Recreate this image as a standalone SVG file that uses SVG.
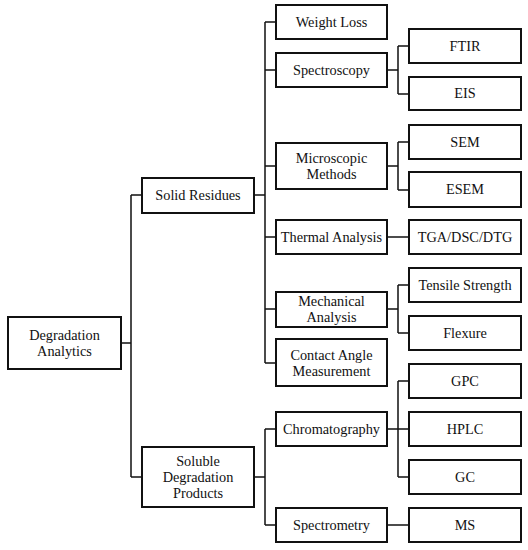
<svg xmlns="http://www.w3.org/2000/svg" width="528" height="550" viewBox="0 0 528 550">
<style>
.box{fill:#fff;stroke:#111;stroke-width:2}
.t{font-family:"Liberation Serif","DejaVu Serif",serif;font-size:14.3px;fill:#111;text-anchor:middle;dominant-baseline:central}
.c{fill:none;stroke:#111;stroke-width:1.5}
</style>
<rect width="528" height="550" fill="#fff"/>
<g id="connectors" class="c">
<path d="M121 343H131M131 195V477M131 195H142M131 477H142"/>
<path d="M254 195H265M265 22V363M265 22H276M265 70H276M265 166H276M265 237H276M265 309H276M265 363H276"/>
<path d="M387 70H398M398 46V94M398 46H409M398 94H409"/>
<path d="M387 166H398M398 142V190M398 142H409M398 190H409"/>
<path d="M387 237H409"/>
<path d="M387 309H398M398 285V333M398 285H409M398 333H409"/>
<path d="M254 477H265M265 429V525M265 429H276M265 525H276"/>
<path d="M387 429H398M398 381V477M398 381H409M398 429H409M398 477H409"/>
<path d="M387 525H409"/>
</g>
<g id="degradation"><rect class="box" x="8" y="317" width="113" height="52"/><text class="t" x="64.5" y="334.5">Degradation</text><text class="t" x="64.5" y="350.5">Analytics</text></g>
<g id="solid"><rect class="box" x="142" y="178" width="112" height="35"/><text class="t" x="198" y="195">Solid Residues</text></g>
<g id="soluble"><rect class="box" x="142" y="447" width="112" height="60"/><text class="t" x="198" y="461">Soluble</text><text class="t" x="198" y="477">Degradation</text><text class="t" x="198" y="493">Products</text></g>
<g id="weightloss"><rect class="box" x="276" y="5" width="111" height="34"/><text class="t" x="331.5" y="21.5">Weight Loss</text></g>
<g id="spectroscopy"><rect class="box" x="276" y="53" width="111" height="34"/><text class="t" x="331.5" y="69.5">Spectroscopy</text></g>
<g id="microscopic"><rect class="box" x="276" y="143" width="111" height="46"/><text class="t" x="331.5" y="157.5">Microscopic</text><text class="t" x="331.5" y="174">Methods</text></g>
<g id="thermal"><rect class="box" x="276" y="220" width="111" height="34"/><text class="t" x="331.5" y="236.5">Thermal Analysis</text></g>
<g id="mechanical"><rect class="box" x="276" y="292" width="111" height="35"/><text class="t" x="331.5" y="301">Mechanical</text><text class="t" x="331.5" y="317">Analysis</text></g>
<g id="contact"><rect class="box" x="276" y="339" width="111" height="47"/><text class="t" x="331.5" y="355">Contact Angle</text><text class="t" x="331.5" y="371">Measurement</text></g>
<g id="chromatography"><rect class="box" x="276" y="412" width="111" height="34"/><text class="t" x="331.5" y="428.5">Chromatography</text></g>
<g id="spectrometry"><rect class="box" x="276" y="508" width="111" height="34"/><text class="t" x="331.5" y="524.5">Spectrometry</text></g>
<g id="ftir"><rect class="box" x="409" y="29" width="112" height="34"/><text class="t" x="465" y="45.5">FTIR</text></g>
<g id="eis"><rect class="box" x="409" y="77" width="112" height="33"/><text class="t" x="465" y="93">EIS</text></g>
<g id="sem"><rect class="box" x="409" y="125" width="112" height="34"/><text class="t" x="465" y="141.5">SEM</text></g>
<g id="esem"><rect class="box" x="409" y="172" width="112" height="35"/><text class="t" x="465" y="189">ESEM</text></g>
<g id="tga"><rect class="box" x="409" y="220" width="112" height="34"/><text class="t" x="465" y="236.5">TGA/DSC/DTG</text></g>
<g id="tensile"><rect class="box" x="409" y="268" width="112" height="34"/><text class="t" x="465" y="284.5">Tensile Strength</text></g>
<g id="flexure"><rect class="box" x="409" y="316" width="112" height="34"/><text class="t" x="465" y="332.5">Flexure</text></g>
<g id="gpc"><rect class="box" x="409" y="364" width="112" height="34"/><text class="t" x="465" y="380.5">GPC</text></g>
<g id="hplc"><rect class="box" x="409" y="412" width="112" height="34"/><text class="t" x="465" y="428.5">HPLC</text></g>
<g id="gc"><rect class="box" x="409" y="460" width="112" height="34"/><text class="t" x="465" y="476.5">GC</text></g>
<g id="ms"><rect class="box" x="409" y="508" width="112" height="34"/><text class="t" x="465" y="524.5">MS</text></g>
</svg>
